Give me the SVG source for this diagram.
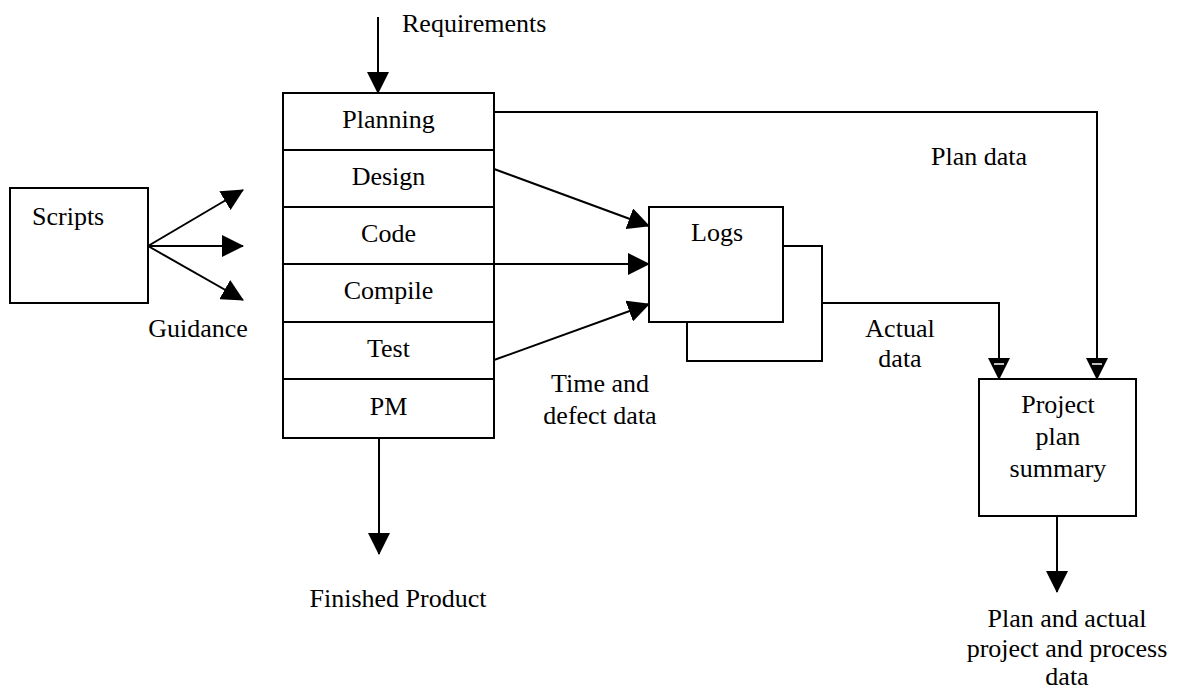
<svg xmlns="http://www.w3.org/2000/svg" width="1185" height="691" viewBox="0 0 1185 691">
<style>
.box{fill:#fff;stroke:#000;stroke-width:2}
.ln{fill:none;stroke:#000;stroke-width:2}
.t{font-family:"Liberation Serif","Times New Roman",serif;font-size:26px;fill:#000}
.m{text-anchor:middle}
</style>
<defs>
<marker id="ah" markerUnits="userSpaceOnUse" markerWidth="22" markerHeight="22" refX="21" refY="11" orient="auto">
<path d="M0,0 L22,11 L0,22 z" fill="#000"/>
</marker>
<marker id="ah2" markerUnits="userSpaceOnUse" markerWidth="22" markerHeight="22" refX="21" refY="11" orient="auto">
<path d="M0,0 L22,11 L0,22 z" fill="#000"/>
<line x1="6" y1="6" x2="6" y2="16" stroke="#fff" stroke-width="1.5"/>
</marker>
</defs>
<g id="connectors">
<line class="ln" x1="378" y1="17" x2="378" y2="93" marker-end="url(#ah)"/>
<line class="ln" x1="148" y1="246" x2="243" y2="190" marker-end="url(#ah)"/>
<line class="ln" x1="148" y1="246" x2="243" y2="246" marker-end="url(#ah)"/>
<line class="ln" x1="148" y1="246" x2="243" y2="300" marker-end="url(#ah)"/>
<line class="ln" x1="494" y1="169" x2="649" y2="226" marker-end="url(#ah)"/>
<line class="ln" x1="494" y1="264" x2="649" y2="264" marker-end="url(#ah)"/>
<line class="ln" x1="494" y1="360" x2="649" y2="304" marker-end="url(#ah)"/>
<polyline class="ln" points="494,112 1097,112 1097,379" marker-end="url(#ah2)"/>
<polyline class="ln" points="822,303 999,303 999,379" marker-end="url(#ah2)"/>
<line class="ln" x1="379" y1="438" x2="379" y2="554" marker-end="url(#ah)"/>
<line class="ln" x1="1057" y1="516" x2="1057" y2="592" marker-end="url(#ah)"/>
</g>
<g id="scripts">
<rect class="box" x="10" y="188" width="138" height="115"/>
<text class="t" x="32" y="225">Scripts</text>
</g>
<g id="guidance-label"><text class="t m" x="198" y="337">Guidance</text></g>
<g id="requirements-label"><text class="t" x="402" y="32">Requirements</text></g>
<g id="planning"><rect class="box" x="283" y="93" width="211" height="57"/><text class="t m" x="388.5" y="128">Planning</text></g>
<g id="design"><rect class="box" x="283" y="150" width="211" height="57"/><text class="t m" x="388.5" y="185">Design</text></g>
<g id="code"><rect class="box" x="283" y="207" width="211" height="57"/><text class="t m" x="388.5" y="242">Code</text></g>
<g id="compile"><rect class="box" x="283" y="264" width="211" height="58"/><text class="t m" x="388.5" y="299">Compile</text></g>
<g id="test"><rect class="box" x="283" y="322" width="211" height="57"/><text class="t m" x="388.5" y="357">Test</text></g>
<g id="pm"><rect class="box" x="283" y="379" width="211" height="59"/><text class="t m" x="388.5" y="415">PM</text></g>
<g id="finished-label"><text class="t m" x="398" y="607">Finished Product</text></g>
<g id="logs">
<rect class="box" x="687" y="246" width="135" height="115"/>
<rect class="box" x="649" y="207" width="134" height="115"/>
<text class="t m" x="717" y="241">Logs</text>
</g>
<g id="time-label"><text class="t m" x="600" y="392">Time and</text><text class="t m" x="600" y="424">defect data</text></g>
<g id="plan-data-label"><text class="t m" x="979" y="165">Plan data</text></g>
<g id="actual-label"><text class="t m" x="900" y="337">Actual</text><text class="t m" x="900" y="367">data</text></g>
<g id="summary">
<rect class="box" x="979" y="379" width="157" height="137"/>
<text class="t m" x="1058" y="413">Project</text>
<text class="t m" x="1058" y="445">plan</text>
<text class="t m" x="1058" y="477">summary</text>
</g>
<g id="output-label">
<text class="t m" x="1067" y="627">Plan and actual</text>
<text class="t m" x="1067" y="657">project and process</text>
<text class="t m" x="1067" y="685">data</text>
</g>
</svg>
